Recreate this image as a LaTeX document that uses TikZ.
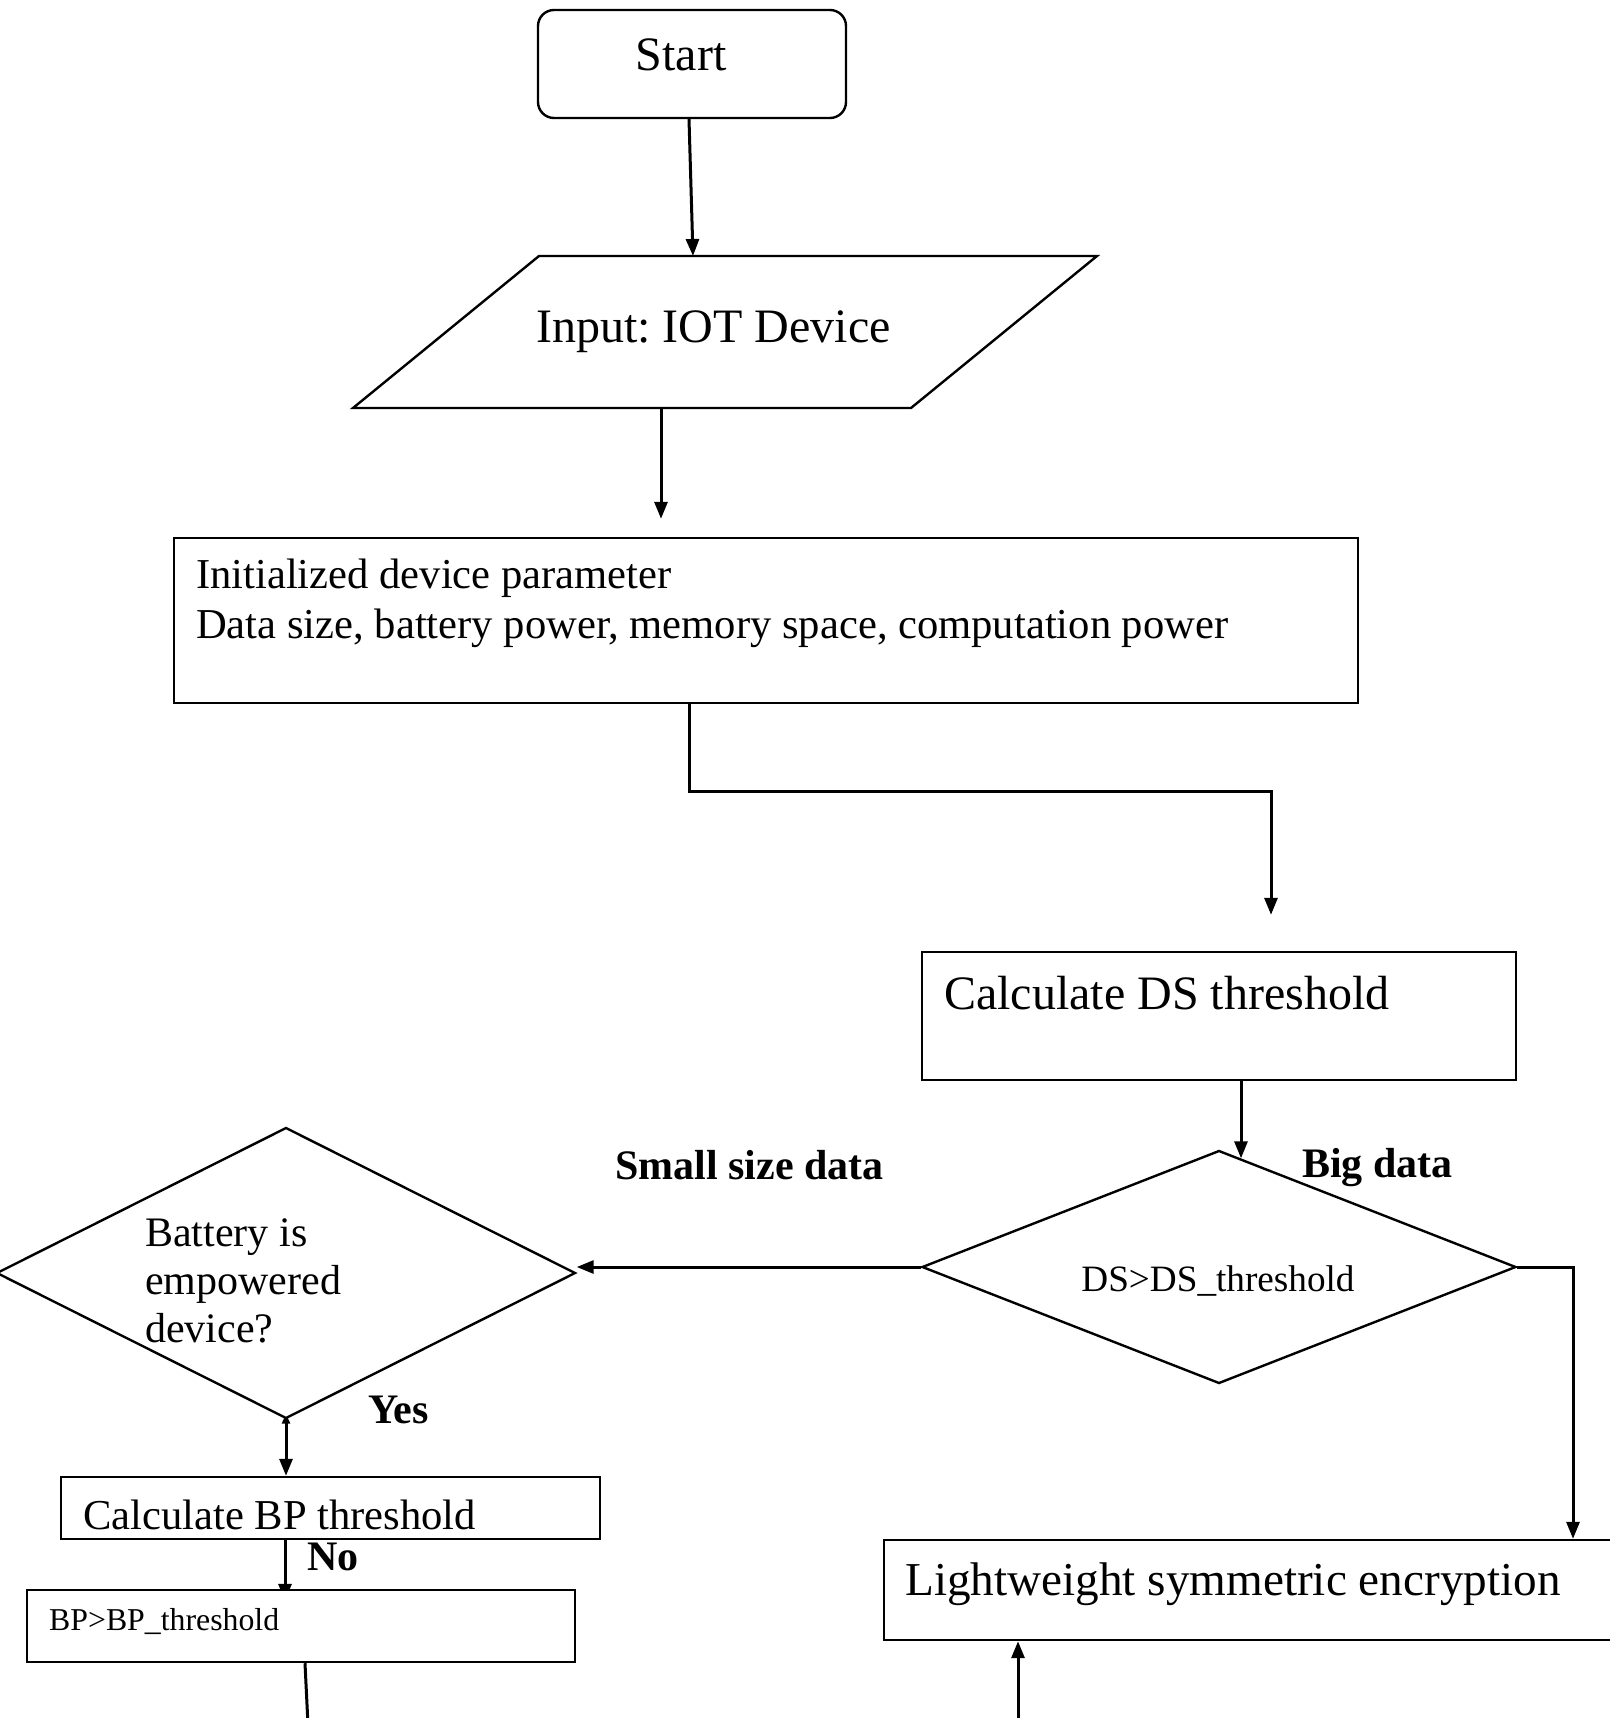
\documentclass[tikz,border=0pt]{standalone}
\usepackage{fontspec}
\setmainfont{Liberation Serif}
\usetikzlibrary{shapes.geometric,arrows.meta,backgrounds}
\frenchspacing

\begin{document}
\begin{tikzpicture}[x=0.5pt,y=-0.5pt,line width=1.2pt,
  box/.style={draw,rectangle,inner sep=0pt,fill=white},
  choice/.style={draw,diamond,inner sep=0pt,fill=white},
  link/.style={line width=1.5pt},
  arr/.style={link,-{Triangle[length=8.5pt,width=6.5pt]}},
  txt/.style={inner sep=0pt,anchor=west},
  big/.style={font=\fontsize{24}{28}\selectfont},
  mid/.style={font=\fontsize{21.3}{24}\selectfont},
  lbl/.style={inner sep=0pt,anchor=west,font=\fontsize{21}{24}\selectfont\bfseries}]
\useasboundingbox (0,0) rectangle (1610,1718);

% start terminal
\node[box,rounded corners=8pt,minimum width=154pt,minimum height=54pt] (start) at (692,64) {};
\node[inner sep=0pt,big] (starttxt) at (681,55) {Start};

% input parallelogram
\draw[fill=white] (539,256) coordinate (inTL) -- (1097,256) coordinate (inTR)
  -- (911,408) coordinate (inBR) -- (353,408) coordinate (inBL) -- cycle;
\coordinate (inTop) at (693,256);
\coordinate (inBot) at (661,408);
\node[txt,big] (intxt) at (535,332) {Input: IOT Device};

% initialisation
\node[box,minimum width=592pt,minimum height=82.5pt] (init) at (766,620.5) {};
\node[txt,mid] (initA) at (195,578) {Initialized device parameter};
\node[txt,mid] (initB) at (195,628) {Data size, battery power, memory space, computation power};

% data size threshold
\node[box,minimum width=297pt,minimum height=64pt] (dsbox) at (1219,1016) {};
\node[txt,big] (dstxt) at (943,993) {Calculate DS threshold};

\node[choice,minimum width=297pt,minimum height=116.5pt] (dsd) at (1219,1267) {};
\node[inner sep=0pt,font=\fontsize{18.6}{22}\selectfont] (dsdtxt) at (1218,1281) {DS>DS\_threshold};

\node[lbl] (small) at (614,1165) {Small size data};
\node[lbl] (bigd) at (1301,1168) {Big data};

% battery branch
\node[choice,minimum width=289.5pt,minimum height=145.5pt] (bat) at (286,1273) {};
\node[txt,align=left,font=\fontsize{21}{24}\selectfont] (battxt) at (144,1281) {Battery is\\empowered\\device?};
\node[lbl] (yes) at (367,1410) {Yes};

\node[box,minimum width=269.5pt,minimum height=31pt] (bp) at (330.5,1508) {};
\node[txt,mid] (bptxt) at (82,1515) {Calculate BP threshold};
\node[lbl] (no) at (306,1557) {No};

\node[box,minimum width=274pt,minimum height=36pt] (bpt) at (301,1626) {};
\node[txt,font=\fontsize{15.9}{19}\selectfont] (bpttxt) at (48,1621) {BP>BP\_threshold};

% encryption
\node[box,minimum width=370pt,minimum height=50pt] (lw) at (1254,1590) {};
\node[txt,font=\fontsize{23.6}{28}\selectfont] (lwtxt) at (904,1584) {Lightweight symmetric encryption};

\coordinate (lwsrc) at (1018,1725);
\coordinate (bpend) at (308,1725);

% connectors
\begin{scope}[on background layer]
\draw[arr] ([xshift=-1.5pt]start.south) -- (inTop);
\draw[arr,shorten >=9pt] (inBot) -- (inBot |- init.north);
\draw[arr,shorten >=18pt] ([xshift=-38.5pt]init.south) -- ++(0,87) -| ([xshift=26pt]dsbox.north);
\draw[arr] ([xshift=11pt]dsbox.south) -- ([xshift=11pt,yshift=-4.5pt]dsd.north);
\draw[arr] (dsd.west) -- (dsd.west -| bat.east);
\draw[arr] (dsd.east) -| ([xshift=159.5pt]lw.north);
\draw[arr] (lwsrc) -- (lwsrc |- lw.south);
\draw[link,{Triangle[length=5pt,width=4pt]}-{Triangle[length=8.5pt,width=6.5pt]}] ([yshift=3pt]bat.south) -- (bat.south |- bp.north);
\draw[arr,shorten >=-6pt] ([xshift=-22.75pt]bp.south) -- ([xshift=-8pt]bpt.north);
\draw[link] ([xshift=2pt]bpt.south) -- (bpend);
\end{scope}
\end{tikzpicture}
\end{document}
